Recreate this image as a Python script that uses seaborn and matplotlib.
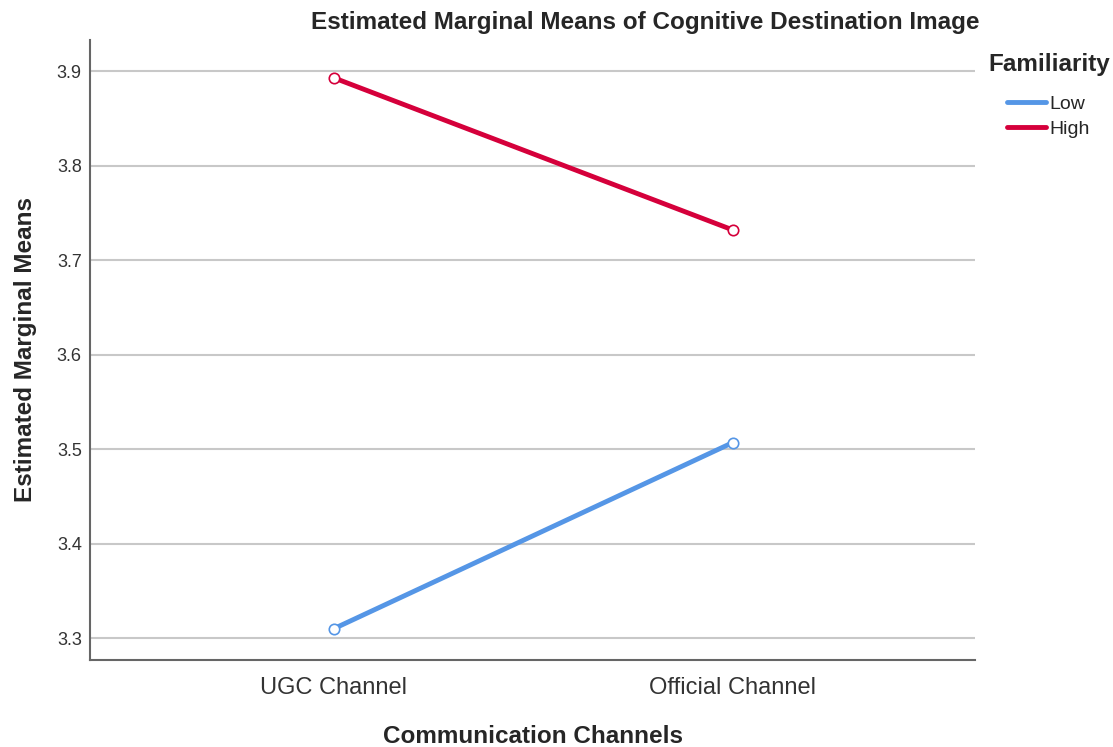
import pandas as pd
import seaborn as sns
import matplotlib.pyplot as plt

# Estimated marginal means
channels = ['UGC Channel', 'Official Channel']
low_means = [3.310, 3.507]
high_means = [3.893, 3.732]
familiarity_levels = ['Low', 'High']

data = pd.DataFrame({
    'Channel': channels * 2,
    'Familiarity': ['Low'] * 2 + ['High'] * 2,
    'Mean': low_means + high_means,
})

palette = {'Low': '#5596e6', 'High': '#d5003b'}

sns.set_style('white')
plt.rcParams['font.family'] = ['Liberation Sans', 'DejaVu Sans']

fig = plt.figure(figsize=(11.13, 7.47), dpi=100)
ax = fig.add_axes([0.081, 0.1165, 0.795, 0.83])

ax.set_axisbelow(True)
ax.yaxis.grid(True, color='#c8c8c8', linewidth=1.5)

sns.pointplot(data=data, x='Channel', y='Mean', hue='Familiarity',
              hue_order=familiarity_levels, order=channels, palette=palette,
              markers='o', markersize=7.5, linewidth=3.5, ax=ax, legend=False)

# open circle markers like the SPSS output
for line in ax.lines:
    line.set_markerfacecolor('white')
    line.set_markeredgewidth(1.2)

ax.set_xlim(-0.61, 1.607)
ax.set_ylim(3.277, 3.933)
ax.set_yticks([3.3, 3.4, 3.5, 3.6, 3.7, 3.8, 3.9])
ax.tick_params(axis='y', labelsize=13, labelcolor='#333333', length=0, pad=6)
ax.tick_params(axis='x', labelsize=17, labelcolor='#333333', length=0, pad=12)

for side in ['top', 'right']:
    ax.spines[side].set_visible(False)
for side in ['left', 'bottom']:
    ax.spines[side].set_color('#666666')
    ax.spines[side].set_linewidth(1.5)

ax.set_xlabel('Communication Channels', fontsize=17.5, fontweight='bold', labelpad=19)
ax.set_ylabel('Estimated Marginal Means', fontsize=17.5, fontweight='bold', labelpad=14)

fig.text(0.58, 0.9705, 'Estimated Marginal Means of Cognitive Destination Image',
         ha='center', va='center', fontsize=17.5, fontweight='bold')

# legend outside on the right
fig.text(988 / 1113, 1 - 65 / 747, 'Familiarity', ha='left', va='center',
         fontsize=17.5, fontweight='bold')
handles = [plt.Line2D([], [], color=palette[f], linewidth=3.5) for f in familiarity_levels]
fig.legend(handles, familiarity_levels, loc='upper left',
           bbox_to_anchor=(1007 / 1113, 1 - 95 / 747), frameon=False, fontsize=14,
           borderpad=0, borderaxespad=0, handlelength=2.0, handletextpad=0.2,
           labelspacing=0.4)

fig.savefig('out.png', dpi=100)
